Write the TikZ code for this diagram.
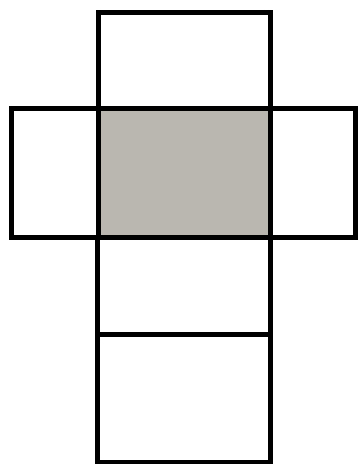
\documentclass[tikz,border=0pt]{standalone}
\definecolor{facegray}{RGB}{186,183,177}
\begin{document}
\begin{tikzpicture}[x=1pt,y=-1pt,face/.style={draw=black,line width=5pt,line join=miter}]
\useasboundingbox (0,0) rectangle (357,464);
\fill[white] (0,0) rectangle (357,464);
\fill[fill=facegray] (98,108) rectangle (270,237);
\draw[face] (98,12) rectangle (270,108);
\draw[face] (11,108) rectangle (98,237);
\draw[face] (98,108) rectangle (270,237);
\draw[face] (270,108) rectangle (355,237);
\draw[face] (97,237) rectangle (270,334);
\draw[face] (97,334) rectangle (270,462);
\end{tikzpicture}
\end{document}
